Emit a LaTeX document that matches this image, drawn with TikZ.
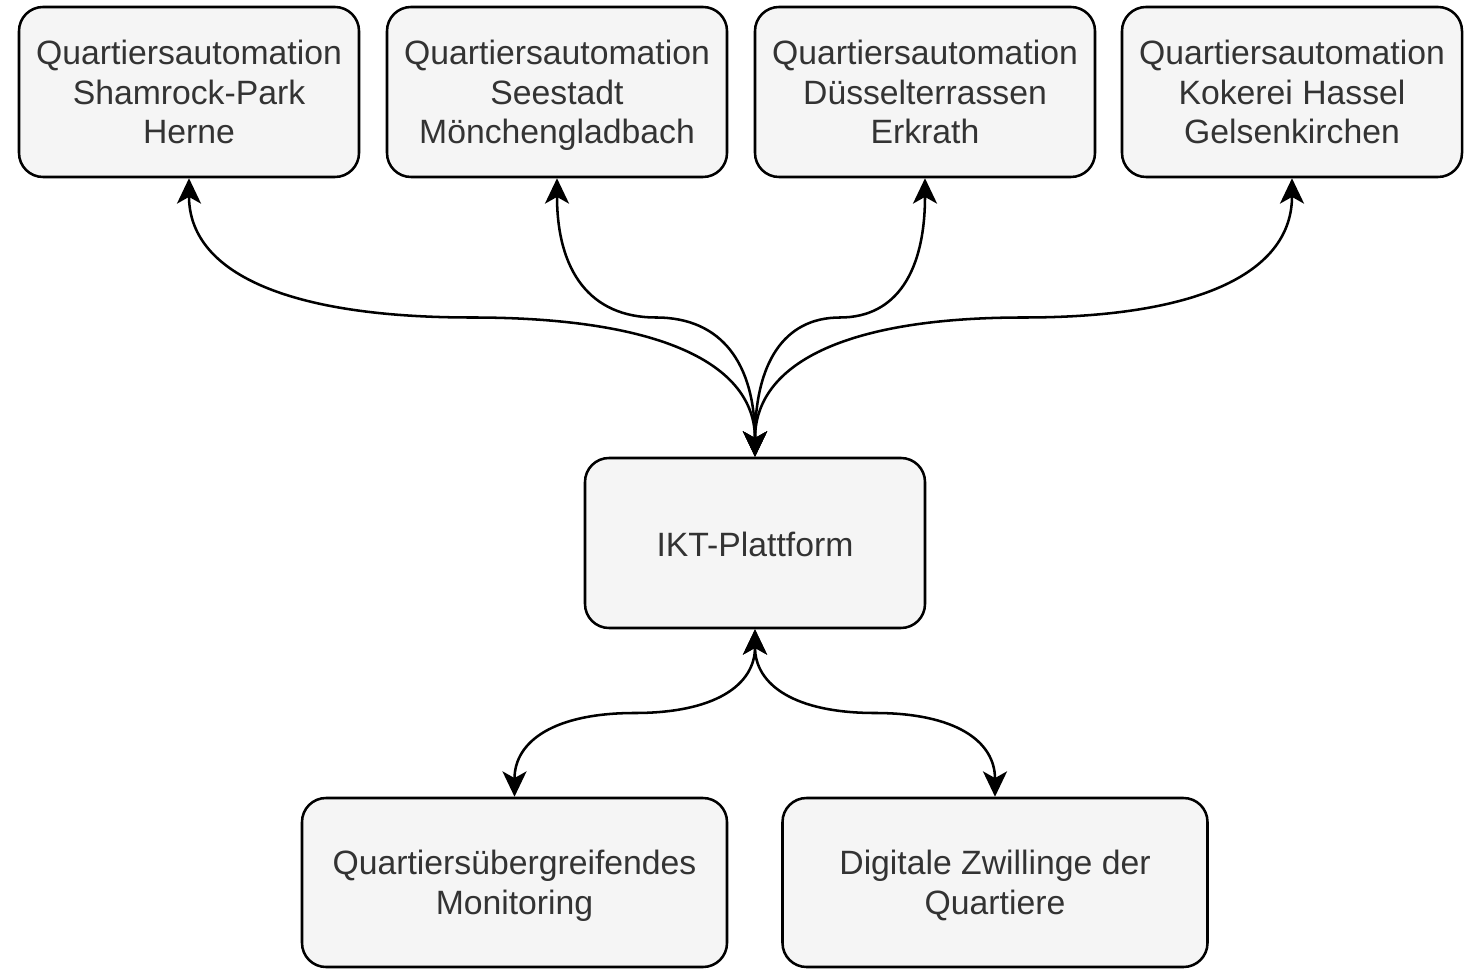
\documentclass[tikz,border=0pt]{standalone}
\usepackage{fontspec}
\setmainfont{Liberation Sans}
\usetikzlibrary{arrows.meta,calc}
\definecolor{boxfill}{HTML}{F5F5F5}
\definecolor{txt}{HTML}{333333}
\newcommand\topstrut{\rule{0pt}{29.7pt}}
\newcommand\botstrut{\rule[-8.9pt]{0pt}{0pt}}
\newcommand\lastline[1]{\smash{#1}}
\tikzset{
  box/.style={draw=black, fill=boxfill, line width=1.9pt, rounded corners=18pt,
    minimum width=255pt, minimum height=127.5pt, align=center, text=txt,
    font=\fontsize{25.3pt}{29.6pt}\selectfont, inner sep=0pt},
  single/.style={execute at begin node=\topstrut, execute at end node=\botstrut},
  wide/.style={minimum width=318.75pt, minimum height=126.75pt},
  link/.style={line width=1.9pt, {Stealth[length=19pt,width=18pt,inset=5pt]}-{Stealth[length=19pt,width=18pt,inset=5pt]}}
}
\newcommand\curvedlink[2]{%
  \coordinate (cmid) at ($(#1)!0.5!(#2)$);
  \coordinate (cpA) at (#1 |- cmid);
  \coordinate (cpB) at (#2 |- cmid);
  \draw[link] (#1) .. controls ($(#1)!2/3!(cpA)$) and ($(cmid)!2/3!(cpA)$) .. (cmid)
    .. controls ($(cmid)!2/3!(cpB)$) and ($(#2)!2/3!(cpB)$) .. (#2);
}
\begin{document}
\begin{tikzpicture}[x=0.75pt,y=-0.75pt]
\useasboundingbox (0,0) rectangle (1478,969);
\node[box] (b1) at (189,92) {Quartiersautomation\\Shamrock-Park\\\lastline{Herne}};
\node[box] (b2) at (557,92) {Quartiersautomation\\Seestadt\\\lastline{Mönchengladbach}};
\node[box] (b3) at (925,92) {Quartiersautomation\\Düsselterrassen\\\lastline{Erkrath}};
\node[box] (b4) at (1292,92) {Quartiersautomation\\Kokerei Hassel\\\lastline{Gelsenkirchen}};
\node[box,single] (ikt) at (755,543) {IKT-Plattform};
\node[box,wide] (mon) at (514.5,882.5) {Quartiersübergreifendes\\\lastline{Monitoring}};
\node[box,wide] (dig) at (995,882.5) {Digitale Zwillinge der\\\lastline{Quartiere}};
\curvedlink{b1.south}{ikt.north}
\curvedlink{b2.south}{ikt.north}
\curvedlink{b3.south}{ikt.north}
\curvedlink{b4.south}{ikt.north}
\curvedlink{ikt.south}{mon.north}
\curvedlink{ikt.south}{dig.north}
\end{tikzpicture}
\end{document}
